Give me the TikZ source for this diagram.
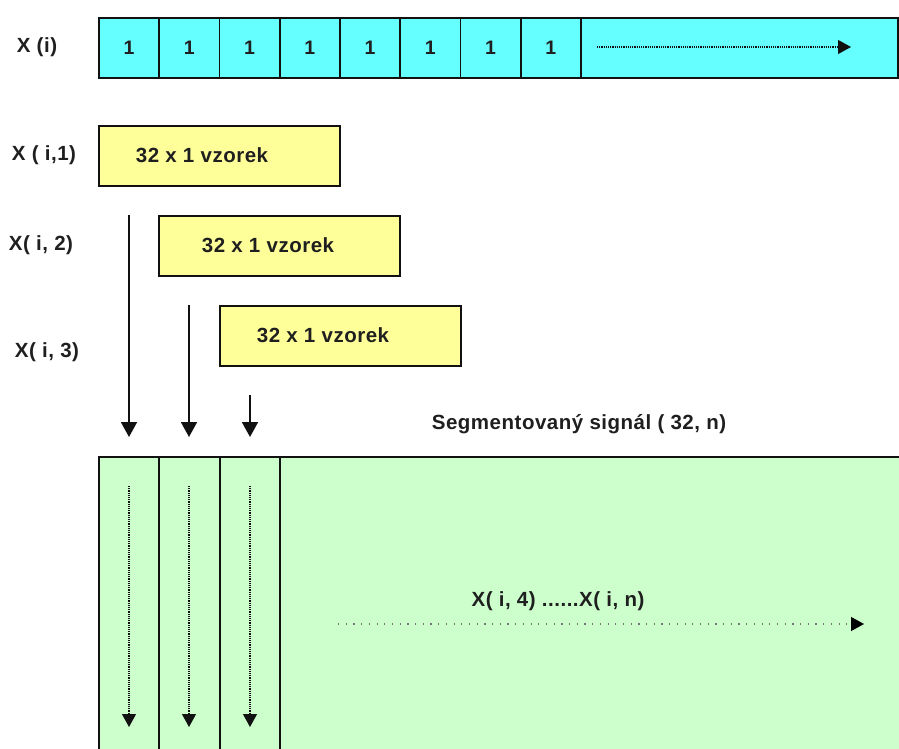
\documentclass[tikz,border=0pt]{standalone}
\usepackage{fontspec}
\setmainfont{Liberation Sans}[LetterSpace=2.5]
\usetikzlibrary{arrows.meta}
\definecolor{cellcyan}{HTML}{66FFFF}
\definecolor{sampleyellow}{HTML}{FFFF99}
\definecolor{seggreen}{HTML}{CCFFCC}
\definecolor{edge}{HTML}{111111}
\begin{document}
\begin{tikzpicture}[x=1pt,y=-1pt,
  txt/.style={font=\bfseries\fontsize{20.5}{23}\selectfont, text=black!88, inner sep=0pt},
  cell/.style={draw=edge, line width=1.8pt, fill=cellcyan, minimum width=60.3pt, minimum height=60pt, inner sep=0pt, anchor=north west, font=\bfseries\fontsize{19.5}{22}\selectfont, text=black!88},
  samplebox/.style={draw=edge, line width=1.8pt, fill=sampleyellow, minimum width=241pt, minimum height=60pt, inner sep=0pt, anchor=north west},
  segcol/.style={draw=edge, line width=1.8pt, fill=seggreen, minimum width=60.3pt, minimum height=340pt, inner sep=0pt, anchor=north west},
  feed/.style={draw=edge, line width=1.8pt, -{Triangle[width=16pt,length=15pt]}},
  flowdown/.style={draw=edge, line width=1.2pt, densely dotted, -{Triangle[width=14pt,length=13pt]}},
  flowright/.style={draw=black!55, line width=1.2pt, dash pattern=on 1.2pt off 6.5pt, -{Triangle[width=14pt,length=13pt,fill=black,color=black]}},
  flowbar/.style={draw=edge, line width=1.2pt, densely dotted, -{Triangle[width=14pt,length=13pt]}}
]
\useasboundingbox (0,0) rectangle (899,749);
\fill[white] (0,0) rectangle (899,749);
\clip (0,0) rectangle (899,749);

% input sequence X(i)
\node[cell, minimum width=799pt] (bar) at (98,17) {};
\foreach \k in {1,...,8}{
  \node[cell] (c\k) at ({98+(\k-1)*60.25},17) {1};
}
\coordinate (barstart) at (597,47);
\coordinate (barend) at (851,47);
\draw[flowbar] (barstart) -- (barend);
\node[txt] (lx) at (37,47) {X (i)};

% sample windows
\node[samplebox] (w1) at (98,125) {};
\node[samplebox] (w2) at (158,215) {};
\node[samplebox] (w3) at (219,305) {};
\node[txt] (t1) at (202,155) {32 x 1 vzorek};
\node[txt] (t2) at (268,245) {32 x 1 vzorek};
\node[txt] (t3) at (323,335) {32 x 1 vzorek};
\node[txt] (l1) at (44,155) {X ( i,1)};
\node[txt] (l2) at (41,245) {X( i, 2)};
\node[txt] (l3) at (47,352) {X( i, 3)};

% segmented signal matrix
\node[segcol, minimum width=840pt] (seg) at (98,456) {};
\node[segcol] (g1) at (98,456) {};
\node[segcol] (g2) at (158.5,456) {};
\node[segcol] (g3) at (219,456) {};
\node[txt] (segl) at (579,424) {Segmentovaný signál ( 32, n)};
\node[txt] (rest) at (558,601) {X( i, 4) ......X( i, n)};

% windows feeding the columns
\coordinate (f1) at (129,215);
\coordinate (f2) at (189,305);
\coordinate (f3) at (250,395);
\draw[feed, shorten >=19pt] (f1) -- (f1 |- g1.north);
\draw[feed, shorten >=19pt] (f2) -- (f2 |- g2.north);
\draw[feed, shorten >=19pt] (f3) -- (f3 |- g3.north);

% samples running down each column
\foreach \k/\x in {1/129,2/189,3/250}{
  \coordinate (d\k a) at (\x,486);
  \coordinate (d\k b) at (\x,727);
  \draw[flowdown] (d\k a) -- (d\k b);
}
\coordinate (ra) at (338,624);
\coordinate (rb) at (864,624);
\draw[flowright] (ra) -- (rb);
\end{tikzpicture}
\end{document}
